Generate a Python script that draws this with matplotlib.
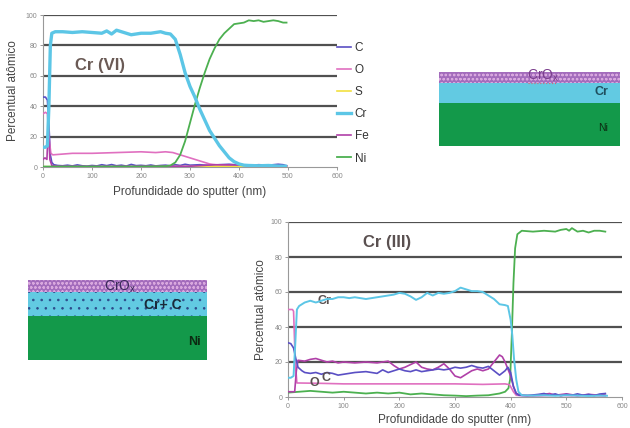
import matplotlib
matplotlib.use("Agg")
import matplotlib.pyplot as plt
from matplotlib.patches import Rectangle

plt.rcParams['font.family'] = ['Liberation Sans', 'DejaVu Sans']
plt.rcParams['hatch.linewidth'] = 0.6

# ---------------- Top chart: Cr (VI) ----------------
top_cr_x = [0, 5, 9, 12, 15, 18, 25, 40, 60, 80, 100, 120, 130, 140, 150, 160, 170, 180, 200, 220, 240, 250,
            260, 270, 280, 290, 300, 310, 320, 330, 340, 350, 360, 370, 380, 390, 400, 410, 420, 440, 460, 480, 495]
top_cr_y = [13, 13, 14, 40, 80, 88, 89, 89, 88.5, 89, 88.5, 88, 89.5, 87.5, 90, 89, 88, 87, 88, 88, 89, 88,
            87.5, 84, 74, 62, 53, 46, 38, 31, 24, 19, 14, 10, 6, 3.5, 2, 1.2, 1, 0.8, 1, 0.6, 0.5]

top_ni_x = [0, 50, 100, 150, 200, 250, 260, 270, 280, 290, 300, 310, 320, 330, 340, 350, 360, 370, 380, 390,
            400, 410, 420, 430, 440, 450, 460, 470, 480, 490, 497]
top_ni_y = [0.3, 0.3, 0.3, 0.3, 0.3, 0.5, 1, 3, 8, 17, 29, 41, 52, 62, 71, 78, 84, 88, 91, 94,
            94.5, 95, 96.5, 96, 96.5, 95.5, 96, 96.5, 96, 95, 95]

top_o_x = [0, 5, 9, 12, 16, 20, 40, 60, 100, 150, 200, 230, 250, 265, 280, 300, 320, 340, 360, 380, 400, 450, 497]
top_o_y = [35, 36, 35, 20, 9, 8, 8.5, 9, 9, 9.5, 10, 9.5, 10, 9.5, 8, 6, 4, 2, 1, 0.8, 0.5, 0.4, 0.3]

top_c_x = [0, 5, 9, 12, 15, 18, 22, 30, 40, 50, 60, 70, 80, 90, 100, 110, 120, 130, 140, 150, 160, 170, 180,
           190, 200, 210, 220, 230, 240, 250, 260, 270, 280, 290, 300, 320, 340, 360, 380, 400, 420, 440, 460,
           480, 490, 497]
top_c_y = [46, 46, 44, 28, 8, 3, 1.5, 1, 0.8, 1.2, 0.7, 1.4, 0.8, 0.6, 1, 0.7, 1.5, 0.9, 1.6, 0.8, 1.2, 0.6, 1.7,
           0.9, 1.1, 0.8, 1.3, 0.7, 1, 1.2, 0.8, 1.5, 1, 1.8, 1.2, 1.5, 1, 1.5, 1.8, 1.2, 1, 1.5, 1.2,
           1.8, 1.5, 0.8]

top_fe_x = [0, 4, 8, 11, 14, 18, 30, 100, 200, 300, 350, 400, 450, 497]
top_fe_y = [5, 6, 5, 28, 5, 1, 0.4, 0.3, 0.4, 0.5, 1.5, 1.3, 1, 0.7]

top_s_x = [0, 100, 200, 300, 350, 400, 450, 497]
top_s_y = [0.2, 0.2, 0.2, 0.3, 0.5, 0.4, 0.3, 0.2]

# ---------------- Bottom chart: Cr (III) ----------------
bot_cr_x = [0, 5, 10, 13, 16, 20, 30, 40, 50, 60, 70, 80, 90, 100, 110, 120, 130, 140, 150, 160, 170, 180, 190,
            200, 210, 220, 230, 240, 250, 260, 270, 280, 290, 300, 310, 320, 330, 340, 350, 360, 370, 380, 390,
            395, 400, 403, 406, 410, 414, 420, 440, 460, 480, 500, 520, 540, 560, 573]
bot_cr_y = [11, 11, 12, 30, 50, 52, 54, 55, 54, 55, 56, 56, 57, 57, 56.5, 57, 56.5, 56, 56.5, 57, 57.5, 58, 58.5,
            59.5, 59, 57.5, 55.5, 57, 59.5, 58, 59.5, 59, 59.5, 60.5, 62.5, 61.5, 60.5, 60.5, 60, 58, 56, 53, 52.5,
            52, 44, 35, 22, 10, 3, 1, 0.8, 1, 0.7, 1, 0.8, 0.6, 0.8, 0.7]

bot_ni_x = [0, 20, 40, 60, 80, 100, 120, 140, 160, 180, 200, 220, 240, 260, 280, 300, 320, 340, 360, 380, 390,
            396, 399, 402, 405, 408, 412, 420, 440, 460, 480, 490, 500, 505, 510, 520, 530, 540, 550, 560, 570]
bot_ni_y = [2.5, 3, 3.5, 3, 2.5, 3, 2.5, 2, 2.5, 2, 2.5, 1.5, 2, 1.5, 1, 0.8, 0.5, 0.8, 1, 2, 3,
            5, 10, 35, 65, 85, 93, 95, 94.5, 95, 94.5, 95.5, 96, 95, 96.5, 94.5, 95, 94, 95, 95, 94.5]

bot_o_x = [0, 8, 10, 13, 16, 20, 60, 100, 200, 300, 350, 390, 398, 405, 410, 420, 450, 480, 510, 540, 570]
bot_o_y = [50, 50, 49, 20, 8, 8, 7.8, 7.5, 7.5, 7.5, 7.2, 7.5, 7, 3, 1, 0.8, 0.6, 1, 0.7, 0.9, 0.6]

bot_fe_x = [0, 8, 12, 15, 18, 30, 40, 50, 60, 70, 80, 90, 100, 120, 140, 160, 180, 190, 200, 210, 220, 230, 240,
            250, 260, 270, 280, 290, 300, 310, 320, 330, 340, 350, 360, 370, 380, 385, 390, 395, 400, 405, 410,
            420, 440, 460, 470, 480, 500, 520, 540, 560, 570]
bot_fe_y = [3, 3, 3, 15, 21, 20.5, 21.5, 22, 21, 20, 20.5, 19.5, 20, 19.5, 20, 19.5, 20.5, 18, 16, 17, 18.5, 20, 17,
            16, 15.5, 17, 19, 16, 12, 11, 13, 15, 16, 15, 16, 20, 24, 23, 20, 16, 12, 6, 2,
            1, 0.8, 1.5, 2, 1, 1.8, 0.8, 1.5, 1, 1.8]

bot_c_x = [0, 5, 10, 14, 18, 25, 30, 40, 50, 60, 70, 80, 90, 100, 120, 140, 160, 170, 180, 190, 200, 210, 220,
           230, 240, 250, 260, 270, 280, 290, 300, 310, 320, 330, 340, 350, 360, 370, 380, 390, 395, 400, 405,
           410, 415, 430, 450, 460, 470, 480, 490, 500, 510, 520, 530, 540, 550, 560, 570]
bot_c_y = [31, 30.5, 28, 22, 17, 15, 14, 13.5, 14, 13, 14, 13.5, 12.5, 13, 14, 14.5, 13.5, 15.5, 14, 15, 16, 15, 14.5,
           15.5, 14.5, 15, 15.5, 16, 15.5, 16, 17, 16.5, 17, 18, 17, 16.5, 17.5, 15, 12.5, 15, 17, 14, 6,
           2, 1, 0.8, 1.5, 2, 1, 1.8, 0.7, 1.5, 1, 1.8, 1, 1.5, 0.8, 1.7, 2]

col_c = '#5a4fc4'
col_o = '#e070c0'
col_s = '#f2e040'
col_cr = '#5cc6e6'
col_fe = '#b040a8'
col_ni = '#4cb050'
grid_col = '#505050'
tick_col = '#888888'
text_col = '#444444'

fig = plt.figure(figsize=(6.30, 4.28), dpi=100)
W, H = 630.0, 428.0


def style_axes(ax):
    ax.set_xlim(0, 600)
    ax.set_ylim(0, 100)
    ax.set_xticks(range(0, 601, 100))
    ax.set_yticks(range(0, 101, 20))
    for y in range(20, 101, 20):
        ax.axhline(y, color=grid_col, lw=1.6, zorder=1)
    for s in ['top', 'right']:
        ax.spines[s].set_visible(False)
    ax.spines['left'].set_color('#999999')
    ax.spines['bottom'].set_color('#999999')
    ax.tick_params(axis='both', labelsize=5, colors=tick_col, length=2, width=0.6, pad=2)


# top axes
ax1 = fig.add_axes([43 / W, 1 - 167 / H, (337 - 43) / W, (167 - 15) / H])
style_axes(ax1)
ax1.plot(top_c_x, top_c_y, color=col_c, lw=1.2, label='C', zorder=3)
ax1.plot(top_o_x, top_o_y, color=col_o, lw=1.2, label='O', zorder=3)
ax1.plot(top_s_x, top_s_y, color=col_s, lw=1.2, label='S', zorder=3)
ax1.plot(top_cr_x, top_cr_y, color=col_cr, lw=2.4, label='Cr', zorder=4)
ax1.plot(top_fe_x, top_fe_y, color=col_fe, lw=1.2, label='Fe', zorder=3)
ax1.plot(top_ni_x, top_ni_y, color=col_ni, lw=1.3, label='Ni', zorder=3)
ax1.set_xlabel('Profundidade do sputter (nm)', fontsize=8.5, color=text_col, labelpad=5)
ax1.set_ylabel('Percentual atômico', fontsize=8.5, color=text_col, labelpad=5)
ax1.text(65, 67, 'Cr (VI)', fontsize=12, fontweight='bold', color='#6a5a55', va='center', ha='left')
leg = ax1.legend(loc='upper left', bbox_to_anchor=(1.0, 0.82), frameon=False, borderaxespad=0, borderpad=0,
                 handlelength=1.2, handletextpad=0.3, labelspacing=0.85, fontsize=8.5)
for t in leg.get_texts():
    t.set_color('#333333')

# bottom axes
ax2 = fig.add_axes([288 / W, 1 - 397 / H, (622 - 288) / W, (397 - 222) / H])
style_axes(ax2)
ax2.plot(bot_ni_x, bot_ni_y, color=col_ni, lw=1.3, zorder=3)
ax2.plot(bot_o_x, bot_o_y, color=col_o, lw=1.2, zorder=3)
ax2.plot(bot_fe_x, bot_fe_y, color=col_fe, lw=1.2, zorder=3)
ax2.plot(bot_c_x, bot_c_y, color=col_c, lw=1.2, zorder=3)
ax2.plot(bot_cr_x, bot_cr_y, color=col_cr, lw=1.4, zorder=4)
ax2.set_xlabel('Profundidade do sputter (nm)', fontsize=8.5, color=text_col, labelpad=3)
ax2.set_ylabel('Percentual atômico', fontsize=8.5, color=text_col, labelpad=3)
ax2.text(135, 88, 'Cr (III)', fontsize=12, fontweight='bold', color='#5a5050', va='center', ha='left')
ax2.text(66, 55, 'Cr', fontsize=9, fontweight='bold', color='#5a5050', va='center', ha='center')
ax2.text(48, 8, 'O', fontsize=9, fontweight='bold', color='#5a5050', va='center', ha='center')
ax2.text(68, 11, 'C', fontsize=9, fontweight='bold', color='#5a5050', va='center', ha='center')

# overlay for layer diagrams (pixel coordinates)
ov = fig.add_axes([0, 0, 1, 1], zorder=-1)
ov.set_xlim(0, W)
ov.set_ylim(H, 0)
ov.axis('off')

purple = '#a36cbc'
cyan = '#62cae2'
green = '#13994a'

# top-right diagram
ov.add_patch(Rectangle((439, 72), 181, 11, facecolor=purple, edgecolor='#d9a8de', hatch='oooo', lw=0))
ov.add_patch(Rectangle((439, 83), 181, 20, facecolor=cyan, edgecolor='none', lw=0))
ov.add_patch(Rectangle((439, 103), 181, 43, facecolor=green, edgecolor='none', lw=0))
ov.text(543, 76, 'CrO$_\\mathregular{x}$', fontsize=10, color='#7a3d8c', ha='center', va='center')
ov.plot([528, 556], [82.5, 82.5], color='#e06070', lw=0.8, ls=':')
ov.text(601, 92, 'Cr', fontsize=9, fontweight='bold', color='#1f4f5f', ha='center', va='center')
ov.text(603, 128, 'Ni', fontsize=7.5, color='#0c2a12', ha='center', va='center')

# bottom-left diagram
ov.add_patch(Rectangle((28, 280), 179, 12, facecolor=purple, edgecolor='#d9a8de', hatch='oooo', lw=0))
ov.add_patch(Rectangle((28, 292), 179, 24, facecolor=cyan, edgecolor='#2c4a8a', hatch='..', lw=0))
ov.add_patch(Rectangle((28, 316), 179, 44, facecolor=green, edgecolor='none', lw=0))
ov.text(120, 287, 'CrO$_\\mathregular{x}$', fontsize=10, color='#3a2a5a', ha='center', va='center')
ov.text(163, 305, 'Cr+ C', fontsize=10, fontweight='bold', color='#1a2a3a', ha='center', va='center')
ov.text(194, 342, 'Ni', fontsize=9, fontweight='bold', color='#0c2a12', ha='center', va='center')

fig.savefig('out.png', dpi=100)
